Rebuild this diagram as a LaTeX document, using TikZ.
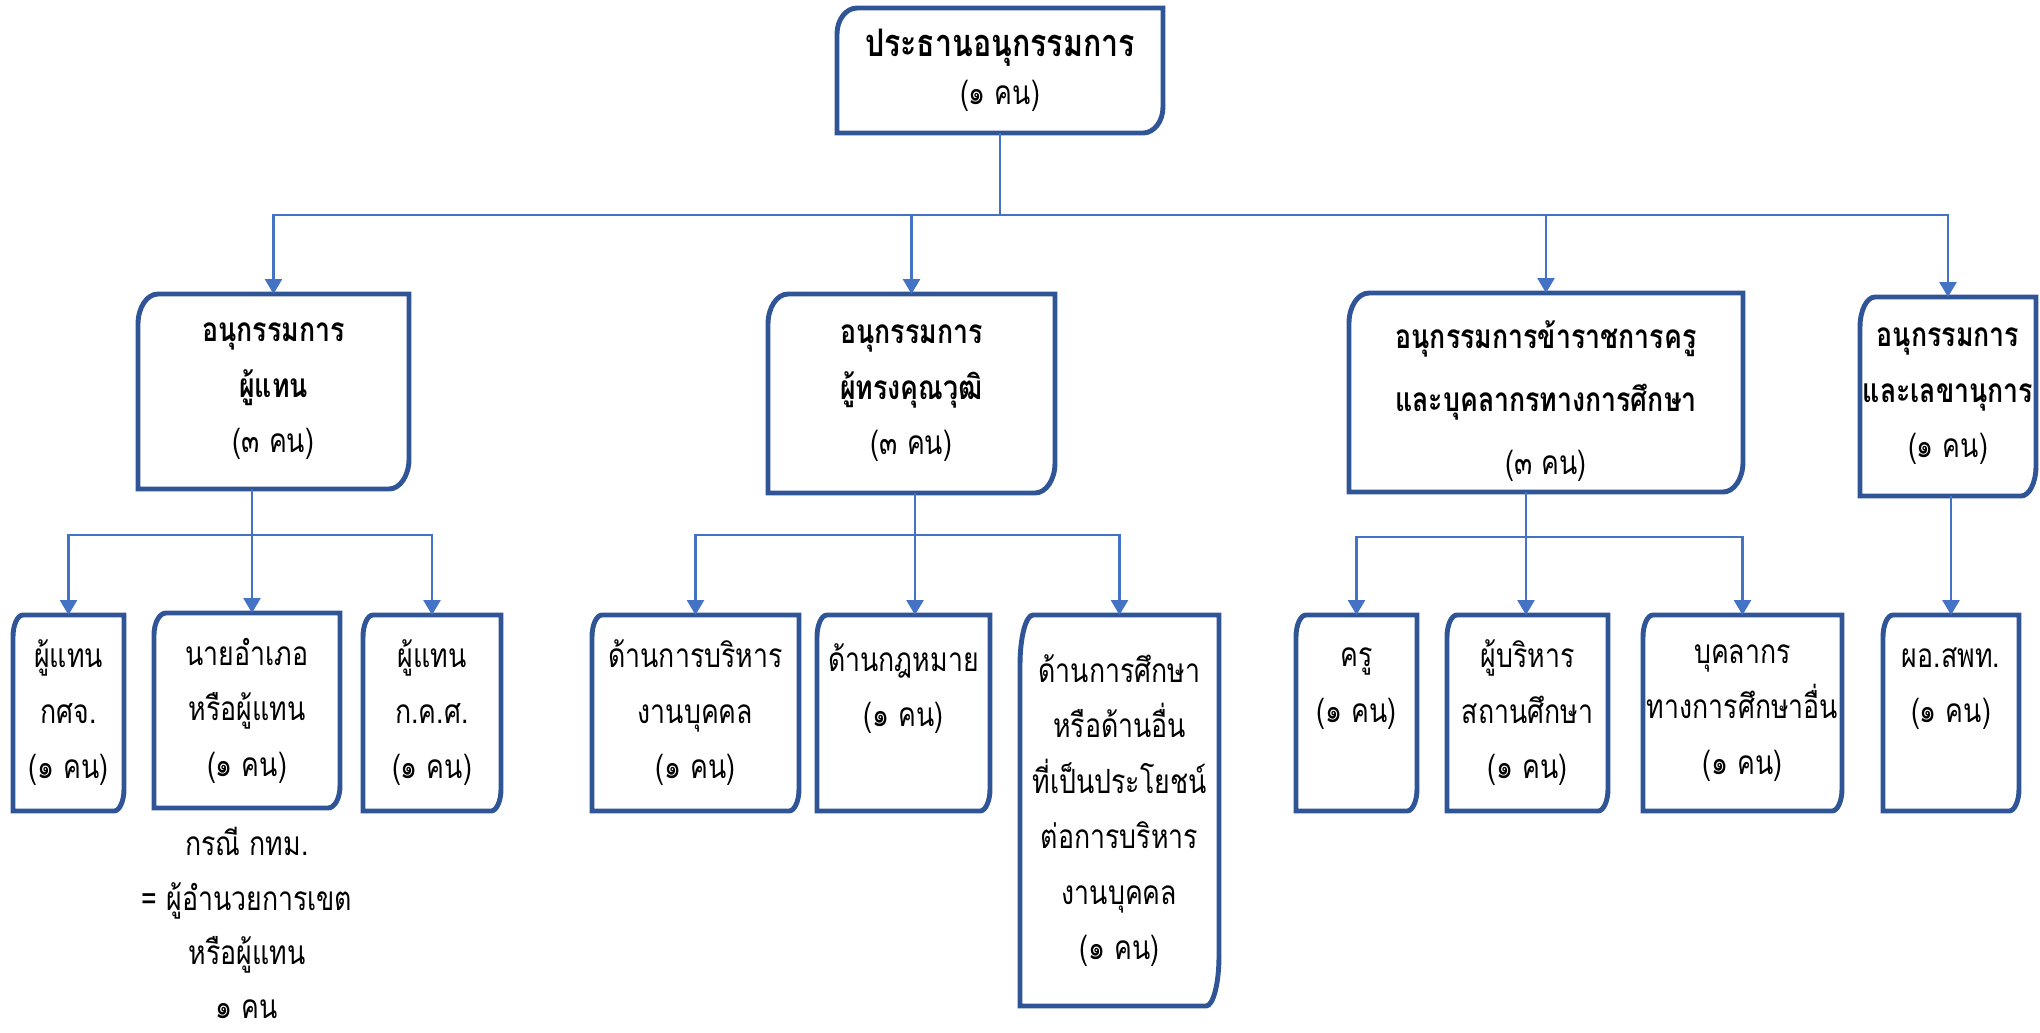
\documentclass[tikz,border=0pt]{standalone}
\usepackage{fontspec}
\newfontfamily\thaifont[Script=Thai,FakeStretch=0.8]{Loma}
\usetikzlibrary{arrows.meta}
\definecolor{framecol}{HTML}{2F5597}
\definecolor{linkcol}{HTML}{4472C4}

\begin{document}
\begin{tikzpicture}[scale=1,>={Triangle[width=0.17cm,length=0.15cm]}]
	\tikzstyle{card}=[inner sep=0pt,outer sep=0pt,align=center,
	font=\thaifont\fontsize{9.5}{15.8}\selectfont
	]
	\tikzstyle{frame}=[draw=framecol,line width=1.4pt];
	\tikzstyle{link}=[draw=linkcol,line width=0.75pt];
	\tikzstyle{arr}=[link,->,linkcol];

\useasboundingbox (0,0) rectangle (20.4,-10.32);

\node[card,minimum width=3.26cm,minimum height=1.25cm,font=\thaifont\fontsize{9.5}{13.5}\selectfont](top) at (10.0,-0.705){{\fontsize{10.8}{13.5}\selectfont\textbf{ประธานอนุกรรมการ}}\\(๑ คน)};

\node[card,minimum width=2.71cm,minimum height=1.95cm](a) at (2.735,-3.915){\textbf{อนุกรรมการ}\\\textbf{ผู้แทน}\\(๓ คน)};
\node[card,minimum width=2.87cm,minimum height=1.99cm](b) at (9.115,-3.935){\textbf{อนุกรรมการ}\\\textbf{ผู้ทรงคุณวุฒิ}\\(๓ คน)};
\node[card,minimum width=3.94cm,minimum height=1.99cm,font=\thaifont\fontsize{9.5}{17.8}\selectfont](c) at (15.46,-3.925){\rule{0pt}{0.45cm}\textbf{อนุกรรมการข้าราชการครู}\\\textbf{และบุคลากรทางการศึกษา}\\(๓ คน)};
\node[card,minimum width=1.76cm,minimum height=1.99cm](d) at (19.48,-3.965){\textbf{อนุกรรมการ}\\\textbf{และเลขานุการ}\\(๑ คน)};

\node[card,minimum width=1.11cm,minimum height=1.96cm](a1) at (0.685,-7.13){ผู้แทน\\กศจ.\\(๑ คน)};
\node[card,minimum width=1.86cm,minimum height=1.95cm](a2) at (2.47,-7.105){นายอำเภอ\\หรือผู้แทน\\(๑ คน)};
\node[card,minimum width=1.38cm,minimum height=1.96cm](a3) at (4.32,-7.13){ผู้แทน\\ก.ค.ศ.\\(๑ คน)};
\node[card,font=\thaifont\fontsize{9.5}{15.4}\selectfont](note) at (2.47,-9.23){กรณี กทม.\\= ผู้อำนวยการเขต\\หรือผู้แทน\\๑ คน};

\node[card,minimum width=2.07cm,minimum height=1.96cm](b1) at (6.955,-7.13){ด้านการบริหาร\\งานบุคคล\\(๑ คน)};
\node[card,minimum width=1.73cm,minimum height=1.96cm](b2) at (9.035,-7.13){ด้านกฎหมาย\\(๑ คน)\\~};
\node[card,minimum width=1.99cm,minimum height=3.91cm](b3) at (11.195,-8.105){ด้านการศึกษา\\หรือด้านอื่น\\ที่เป็นประโยชน์\\ต่อการบริหาร\\งานบุคคล\\(๑ คน)};

\node[card,minimum width=1.21cm,minimum height=1.96cm](c1) at (13.565,-7.13){ครู\\(๑ คน)\\~};
\node[card,minimum width=1.61cm,minimum height=1.96cm](c2) at (15.275,-7.13){ผู้บริหาร\\สถานศึกษา\\(๑ คน)};
\node[card,minimum width=1.99cm,minimum height=1.96cm](c3) at (17.425,-7.13){บุคลากร\\ทางการศึกษาอื่น\\(๑ คน)};

\node[card,minimum width=1.36cm,minimum height=1.96cm](d1) at (19.51,-7.13){ผอ.สพท.\\(๑ คน)\\~};

% round top-left and bottom-right corners
\foreach \n/\rx/\ry in {top/0.2/0.26,a/0.2/0.3,b/0.2/0.3,c/0.2/0.3,d/0.15/0.3,
	a1/0.1/0.22,a2/0.12/0.22,a3/0.1/0.22,b1/0.1/0.22,b2/0.1/0.22,b3/0.13/0.5,
	c1/0.1/0.22,c2/0.1/0.22,c3/0.1/0.22,d1/0.1/0.22}
	\draw[frame] ([yshift=-\ry cm]\n.north west) arc[start angle=180,end angle=90,x radius=\rx cm,y radius=\ry cm]
	-- (\n.north east) -- ([yshift=\ry cm]\n.south east) arc[start angle=0,end angle=-90,x radius=\rx cm,y radius=\ry cm]
	-- (\n.south west) -- cycle;

\coordinate (hub) at (10.0,-2.15);
\coordinate (ahub) at (2.52,-5.35);
\coordinate (bhub) at (9.15,-5.35);
\coordinate (chub) at (15.26,-5.37);

\draw[link] (top.south) -- (hub);
\foreach \n in {a,b,c,d}
	\draw[arr] (hub) -| (\n.north);

\draw[link] (ahub |- a.south) -- (ahub);
\foreach \n in {a1,a3}
	\draw[arr] (ahub) -| (\n.north);
\draw[arr] (ahub) -- (ahub |- a2.north);

\draw[link] (bhub |- b.south) -- (bhub);
\foreach \n in {b1,b3}
	\draw[arr] (bhub) -| (\n.north);
\draw[arr] (bhub) -- (bhub |- b2.north);

\draw[link] (chub |- c.south) -- (chub);
\foreach \n in {c1,c3}
	\draw[arr] (chub) -| (\n.north);
\draw[arr] (chub) -- (chub |- c2.north);

\draw[arr] (d.south -| d1.north) -- (d1.north);

\end{tikzpicture}
\end{document}
